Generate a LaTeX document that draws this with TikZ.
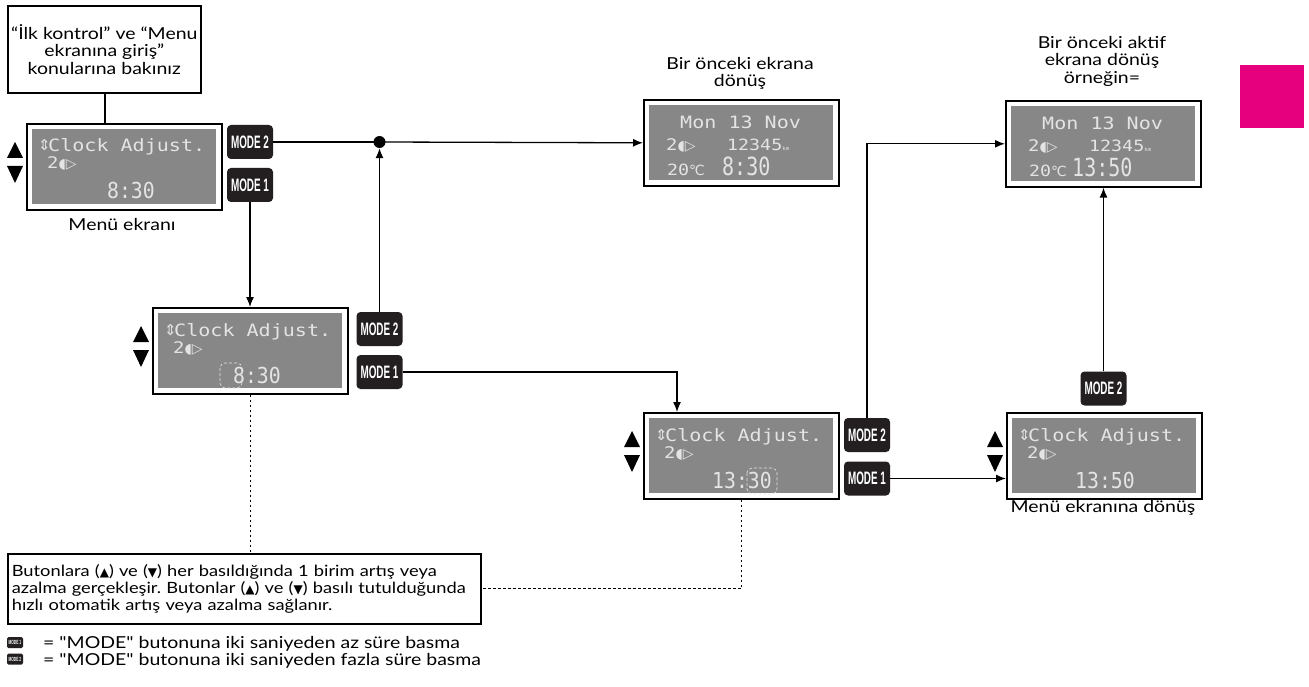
\documentclass[tikz,border=0pt]{standalone}
\usepackage{fontspec}
\setmainfont[FakeStretch=1.18]{Lato}
\newfontfamily\qfont[FakeStretch=1.18,Ligatures=TeXOff]{Lato}
\newfontfamily\lcdA[FakeStretch=1.18]{DejaVu Sans Mono}
\newfontfamily\lcdB[FakeStretch=0.9]{DejaVu Sans Mono}
\newfontfamily\lcdC[FakeStretch=0.8]{DejaVu Sans Mono}
\newfontfamily\symfont{DejaVu Sans}
\newfontfamily\modefont[FakeStretch=0.55]{Liberation Sans}
\usetikzlibrary{arrows.meta,calc}
\definecolor{lcdgray}{RGB}{135,135,135}
\definecolor{lcdtext}{RGB}{228,228,228}
\definecolor{modebg}{RGB}{35,31,32}
\definecolor{magentabox}{RGB}{230,0,126}
\newcommand\sq{{\qfont"}}
\newcommand\tup{({\symfont\fontsize{12}{12}\selectfont ▲})}
\newcommand\tdn{({\symfont\fontsize{12}{12}\selectfont ▼})}
\frenchspacing
\tikzset{
  lcd/.style={draw=black, line width=1.6pt, fill=white, minimum width=195pt, minimum height=86pt,
    inner sep=0pt, anchor=north west,
    path picture={\fill[lcdgray] ([shift={(5.5pt,-5.5pt)}]path picture bounding box.north west)
      rectangle ([shift={(-5.5pt,5.5pt)}]path picture bounding box.south east);}},
  lcdtxt/.style={text=lcdtext, inner sep=0pt, anchor=base west},
  tri/.style={fill=black},
  modebadge/.style={fill=modebg, rounded corners=4pt, minimum width=46pt, minimum height=34pt,
    inner sep=0pt, text=white, font=\modefont\bfseries\fontsize{18}{18}\selectfont},
  minibadge/.style={fill=modebg, rounded corners=1.5pt, minimum width=16pt, minimum height=11pt,
    inner sep=0pt, text=white, font=\modefont\bfseries\fontsize{6}{6}\selectfont},
  notebox/.style={draw=black, line width=1.6pt, inner sep=0pt},
  label/.style={inner sep=0pt, font=\fontsize{16.5}{17.5}\selectfont, align=center},
  conn/.style={line width=1.3pt, -{Latex[length=10pt,width=8pt]}},
  plain/.style={line width=1.3pt},
  dotline/.style={line width=1pt, dash pattern=on 2.5pt off 2.5pt},
  hilite/.style={draw=lcdtext, line width=0.6pt, densely dashed, rounded corners=5pt}
}
\newcommand\clockscr[4]{%
  \node[lcd] (#1) at (#2,#3) {};
  \begin{scope}[shift={(#2,#3)}]
    \node[lcdtxt] (#1a) at (12,28) {\symfont\fontsize{15}{15}\selectfont ⇕};
    \node[lcdtxt] (#1b) at (22,29) {\lcdA\fontsize{17}{17}\selectfont Clock Adjust.};
    \node[lcdtxt] (#1c) at (21,46) {\lcdA\fontsize{16}{16}\selectfont 2{\symfont\fontsize{14}{14}\selectfont ◖▷}};
    \node[lcdtxt, anchor=base east] (#1d) at (129,76) {\lcdB\fontsize{22}{22}\selectfont #4};
    \fill[tri] (-11,19) -- (-19,35) -- (-3,35) -- cycle;
    \fill[tri] (-11,60) -- (-19,43) -- (-3,43) -- cycle;
  \end{scope}}
\newcommand\datescr[5]{%
  \node[lcd] (#1) at (#2,#3) {};
  \begin{scope}[shift={(#2,#3)}]
    \node[lcdtxt] (#1a) at (37,30) {\lcdA\fontsize{17}{17}\selectfont Mon 13 Nov};
    \node[lcdtxt] (#1b) at (23,52) {\lcdA\fontsize{16}{16}\selectfont 2{\symfont\fontsize{14}{14}\selectfont ◖▷}};
    \node[lcdtxt] (#1c) at (84,52) {\lcdA\fontsize{15.5}{15.5}\selectfont 12345{\fontsize{5}{5}\selectfont km}};
    \node[lcdtxt] (#1d) at (24,77) {\lcdA\fontsize{15.5}{15.5}\selectfont 20{\symfont\fontsize{14}{14}\selectfont ℃}};
    \node[lcdtxt] (#1e) at (#5,77) {\lcdC\fontsize{25}{25}\selectfont #4};
  \end{scope}}
\begin{document}
\begin{tikzpicture}[x=1pt,y=-1pt]
\fill[white] (0,0) rectangle (1309,687);
\useasboundingbox (0,0) rectangle (1309,687);

% magenta tab
\fill[magentabox] (1240,65) rectangle (1304,128);

% top-left note
\node[notebox, anchor=north west, minimum width=193pt, minimum height=87pt, align=center,
  font=\fontsize{16.5}{17.5}\selectfont] (N1) at (7,5)
  {“İlk kontrol” ve “Menu\\ekranına giriş”\\konularına bakınız};

% screens
\clockscr{L1}{26}{123}{8:30}
\datescr{L2}{643}{99}{8:30}{79}
\clockscr{L3}{152}{307}{8:30}
\clockscr{L4}{643}{412}{13:30}
\datescr{L5}{1005}{100}{13:50}{67}
\clockscr{L6}{1006}{412}{13:50}

% highlight marks
\begin{scope}[shift={(152,307)}]
  \draw[hilite] (68,56) rectangle (90,81);
\end{scope}
\begin{scope}[shift={(643,412)}]
  \draw[hilite] (104,56) rectangle (134,82);
\end{scope}

% labels
\node[label, anchor=base] (T1) at (122,230) {Menü ekranı};
\node[label, anchor=north] (T2) at (740,57) {Bir önceki ekrana\\dönüş};
\node[label, anchor=north] (T5) at (1102,36) {Bir önceki aktif\\ekrana dönüş\\örneğin=};
\node[label, anchor=base] (T6) at (1103,512) {Menü ekranına dönüş};

% mode badges
\node[modebadge] (B1M2) at (250,142) {MODE 2};
\node[modebadge] (B1M1) at (250,185) {MODE 1};
\node[modebadge] (B2M2) at (379.5,329) {MODE 2};
\node[modebadge] (B2M1) at (379.5,372) {MODE 1};
\node[modebadge] (B3M2) at (867,435) {MODE 2};
\node[modebadge] (B3M1) at (867,478.5) {MODE 1};
\node[modebadge] (B4M2) at (1103.5,388.5) {MODE 2};

% junction dot
\node[circle, fill=black, inner sep=0pt, minimum size=12pt] (dot) at (379.5,142) {};

% connectors
\draw[plain] (N1.south -| 105,0) -- (L1.north -| 105,0);
\draw[plain] (B1M2.east) -- (dot.center);
\draw[conn] (dot.center) -- (L2.west);
\draw[conn] (B1M1.south) -- (B1M1.south |- L3.north);
\draw[conn] (B2M2.north) -- (dot.south);
\draw[conn] (B2M1.east) -| ($(L4.north west)+(34,0)$);
\draw[conn] (B3M2.north) |- (L5.west);
\draw[conn] (B3M1.east) -- (B3M1.east -| L6.west);
\draw[conn] (B4M2.north) -- (B4M2.north |- L5.south);

% bottom note
\node[notebox, anchor=north west, minimum height=70pt, text width=465pt, inner xsep=4pt, align=left,
  font=\fontsize{15.5}{17}\selectfont] (N2) at (7,553)
  {\mbox{Butonlara \tup{} ve \tdn{} her basıldığında 1 birim artış veya}\\
   \mbox{azalma gerçekleşir. Butonlar \tup{} ve \tdn{} basılı tutulduğunda}\\
   \mbox{hızlı otomatik artış veya azalma sağlanır.}};

\draw[dotline] (L3.south) -- (L3.south |- N2.north);
\draw[dotline] (L4.south) |- (N2.east);

% legend
\node[minibadge] (K1) at (15,642.5) {MODE 1};
\node[minibadge] (K2) at (15,659) {MODE 2};
\node[inner sep=0pt, anchor=base west, font=\fontsize{16.5}{17}\selectfont] (K1t) at (43,648) {= \sq MODE\sq{} butonuna iki saniyeden az süre basma};
\node[inner sep=0pt, anchor=base west, font=\fontsize{16.5}{17}\selectfont] (K2t) at (43,665) {= \sq MODE\sq{} butonuna iki saniyeden fazla süre basma};
\end{tikzpicture}
\end{document}
